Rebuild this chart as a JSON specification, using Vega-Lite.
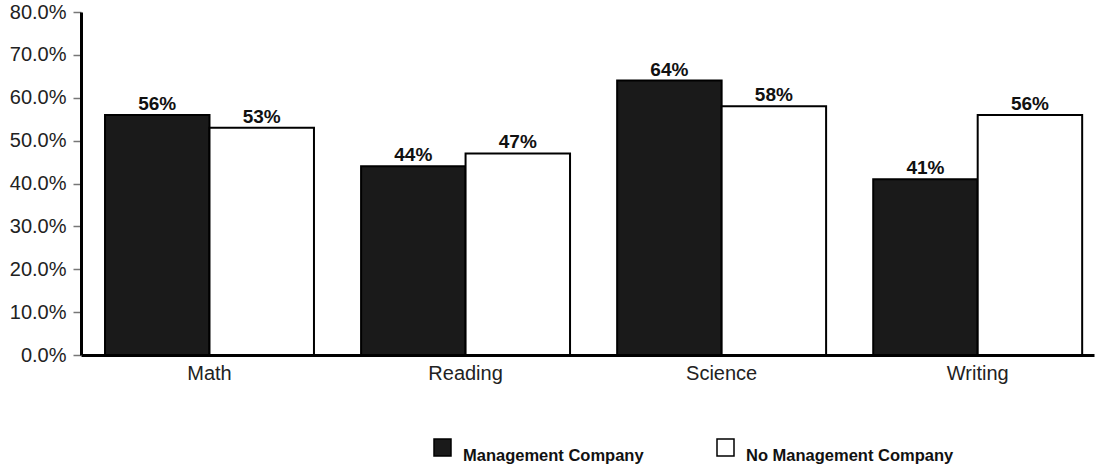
{
  "$schema": "https://vega.github.io/schema/vega-lite/v6.json",
  "autosize": "none",
  "width": 1013,
  "height": 343,
  "padding": {"left": 81, "top": 12, "right": 2, "bottom": 109},
  "background": "white",
  "config": {
    "view": {"stroke": null},
    "font": "Liberation Sans"
  },
  "data": {
    "values": [
      {"subject": "Math", "group": "Management Company", "share": 0.56},
      {"subject": "Math", "group": "No Management Company", "share": 0.53},
      {"subject": "Reading", "group": "Management Company", "share": 0.44},
      {"subject": "Reading", "group": "No Management Company", "share": 0.47},
      {"subject": "Science", "group": "Management Company", "share": 0.64},
      {"subject": "Science", "group": "No Management Company", "share": 0.58},
      {"subject": "Writing", "group": "Management Company", "share": 0.41},
      {"subject": "Writing", "group": "No Management Company", "share": 0.56}
    ]
  },
  "encoding": {
    "x": {
      "field": "subject",
      "type": "nominal",
      "sort": ["Math", "Reading", "Science", "Writing"],
      "scale": {"paddingInner": 0.184, "paddingOuter": 0.07, "align": 0.67},
      "axis": {
        "title": null,
        "labelAngle": 0,
        "labelFontSize": 20,
        "labelColor": "#222222",
        "labelPadding": 8,
        "ticks": false,
        "domainColor": "black",
        "domainWidth": 3,
        "grid": false
      }
    },
    "xOffset": {
      "field": "group",
      "type": "nominal",
      "sort": ["Management Company", "No Management Company"]
    },
    "y": {
      "field": "share",
      "type": "quantitative",
      "scale": {"domain": [0, 0.8]},
      "axis": {
        "title": null,
        "format": ".1%",
        "values": [0, 0.1, 0.2, 0.3, 0.4, 0.5, 0.6, 0.7, 0.8],
        "labelFontSize": 20,
        "labelColor": "#222222",
        "labelPadding": 7,
        "tickSize": 8,
        "tickColor": "#777777",
        "tickWidth": 1.5,
        "domainColor": "black",
        "domainWidth": 3,
        "grid": false
      }
    }
  },
  "layer": [
    {
      "mark": {"type": "bar", "stroke": "black", "strokeWidth": 2},
      "encoding": {
        "fill": {
          "field": "group",
          "type": "nominal",
          "sort": ["Management Company", "No Management Company"],
          "scale": {"range": ["#1a1a1a", "#ffffff"]},
          "legend": {
            "title": null,
            "orient": "none",
            "direction": "horizontal",
            "legendX": 352,
            "legendY": 426,
            "symbolType": "square",
            "symbolSize": 289,
            "symbolStrokeColor": "black",
            "symbolStrokeWidth": 1.5,
            "labelFontSize": 16.5,
            "labelFontWeight": "bold",
            "labelColor": "#111111",
            "labelLimit": 400,
            "labelBaseline": "top",
            "columnPadding": 70,
            "labelOffset": 11
          }
        }
      }
    },
    {
      "mark": {"type": "text", "baseline": "alphabetic", "dy": -5, "fontSize": 19, "fontWeight": "bold", "color": "#111111"},
      "encoding": {
        "text": {"field": "share", "type": "quantitative", "format": ".0%"}
      }
    }
  ]
}
